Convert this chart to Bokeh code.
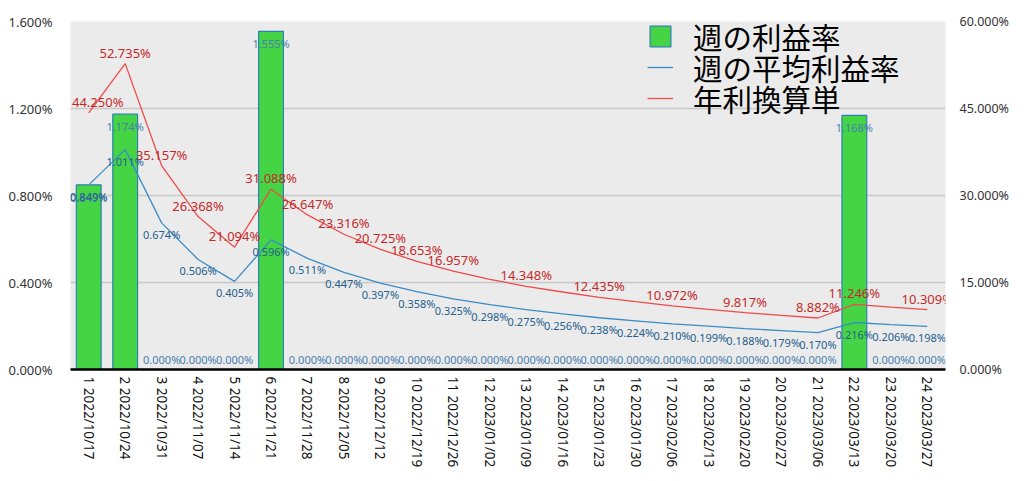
import math
from bokeh.plotting import figure
from bokeh.models import (ColumnDataSource, Range1d, LinearAxis, FixedTicker,
                          PrintfTickFormatter, Legend, LegendItem, FactorRange, LabelSet)
from bokeh.core.properties import value
from bokeh.embed import file_html
from bokeh.resources import INLINE

weeks = ["1 2022/10/17", "2 2022/10/24", "3 2022/10/31", "4 2022/11/07", "5 2022/11/14",
         "6 2022/11/21", "7 2022/11/28", "8 2022/12/05", "9 2022/12/12", "10 2022/12/19",
         "11 2022/12/26", "12 2023/01/02", "13 2023/01/09", "14 2023/01/16", "15 2023/01/23",
         "16 2023/01/30", "17 2023/02/06", "18 2023/02/13", "19 2023/02/20", "20 2023/02/27",
         "21 2023/03/06", "22 2023/03/13", "23 2023/03/20", "24 2023/03/27"]
weekly = [0.849, 1.174, 0.0, 0.0, 0.0, 1.555, 0.0, 0.0, 0.0, 0.0, 0.0, 0.0,
          0.0, 0.0, 0.0, 0.0, 0.0, 0.0, 0.0, 0.0, 0.0, 1.168, 0.0, 0.0]
average = [0.849, 1.011, 0.674, 0.506, 0.405, 0.596, 0.511, 0.447, 0.397, 0.358, 0.325, 0.298,
           0.275, 0.256, 0.238, 0.224, 0.210, 0.199, 0.188, 0.179, 0.170, 0.216, 0.206, 0.198]
annual = [44.250, 52.735, 35.157, 26.368, 21.094, 31.088, 26.647, 23.316, 20.725, 18.653, 16.957, 15.540,
          14.348, 13.360, 12.435, 11.690, 10.972, 10.370, 9.817, 9.330, 8.882, 11.246, 10.740, 10.309]
annual_label_shown = [1, 1, 1, 1, 1, 1, 1, 1, 1, 1, 1, 0, 1, 0, 1, 0, 1, 0, 1, 0, 1, 1, 0, 1]
left_ticks = [0.0, 0.4, 0.8, 1.2, 1.6]
right_ticks = [0.0, 15.0, 30.0, 45.0, 60.0]
legend_names = ["週の利益率", "週の平均利益率", "年利換算単"]

W, H = 1016, 472
p = figure(width=W, height=H, x_range=FactorRange(*weeks, range_padding=0),
           y_range=Range1d(0, 1.6), output_backend="svg", toolbar_location=None,
           min_border_left=70, min_border_right=71, min_border_top=21, min_border_bottom=103)
p.extra_y_ranges = {"right": Range1d(0, 60)}
p.background_fill_color = "#ebebeb"
p.border_fill_color = "white"
p.outline_line_color = None
p.xgrid.grid_line_color = None
p.ygrid.grid_line_color = "#c8c8c8"
p.ygrid.grid_line_width = 1.5
p.ygrid.ticker = FixedTicker(ticks=left_ticks)

font = "Noto Sans"
p.yaxis.ticker = FixedTicker(ticks=left_ticks)
p.yaxis.formatter = PrintfTickFormatter(format="%.3f%%")
p.yaxis.axis_line_color = None
p.yaxis.major_tick_line_color = None
p.yaxis.minor_tick_line_color = None
p.yaxis.major_tick_out = 0
p.yaxis.major_label_text_font = font
p.yaxis.major_label_text_font_size = "13px"
p.yaxis.major_label_text_color = "#333333"
p.yaxis.major_label_standoff = 18

ra = LinearAxis(y_range_name="right", ticker=FixedTicker(ticks=right_ticks),
                formatter=PrintfTickFormatter(format="%.3f%%"))
ra.axis_line_color = None
ra.major_tick_line_color = None
ra.minor_tick_line_color = None
ra.major_tick_out = 0
ra.major_label_text_font = font
ra.major_label_text_font_size = "12.5px"
ra.major_label_text_color = "#333333"
ra.major_label_standoff = 14
p.add_layout(ra, "right")

p.xaxis.major_label_orientation = -math.pi / 2
p.xaxis.axis_line_color = "black"
p.xaxis.axis_line_width = 2.5
p.xaxis.major_tick_line_color = None
p.xaxis.minor_tick_line_color = None
p.xaxis.major_tick_out = 0
p.xaxis.major_tick_in = 0
p.xaxis.major_label_text_font = font
p.xaxis.major_label_text_font_size = "13.5px"
p.xaxis.major_label_text_color = "#111111"
p.xaxis.major_label_standoff = 7

# shift only the first red label so it is not cut at the frame edge
red_shift = [9] + [0] * 23

src = ColumnDataSource(dict(
    x=weeks, weekly=weekly, average=average, annual=annual,
    alab=[f"{v:.3f}%" for v in average],
    rlab=[f"{v:.3f}%" if s else "" for v, s in zip(annual, annual_label_shown)],
    rshift=red_shift,
))

bars = p.vbar(x="x", top="weekly", width=0.68, source=src,
              fill_color="#44d444", line_color="#2f80b8", line_width=1.2)
bl = p.line(x="x", y="average", source=src, line_color="#3a8cc6", line_width=1.3)
rl = p.line(x="x", y="annual", source=src, line_color="#f04a4a", line_width=1.3,
            y_range_name="right")

nz = [i for i, v in enumerate(weekly) if v > 0]
z = [i for i, v in enumerate(weekly) if v == 0]
bsrc = ColumnDataSource(dict(x=[weeks[i] for i in nz], y=[weekly[i] for i in nz],
                             t=[f"{weekly[i]:.3f}%" for i in nz]))
zsrc = ColumnDataSource(dict(x=[weeks[i] for i in z], y=[weekly[i] for i in z],
                             t=[f"{weekly[i]:.3f}%" for i in z]))

p.add_layout(LabelSet(x="x", y="y", text="t", source=bsrc, text_align="center",
                      text_baseline="top", y_offset=-5, text_font=value(font),
                      text_font_size="11px", text_color="#4a80b0"))
p.add_layout(LabelSet(x="x", y="y", text="t", source=zsrc, text_align="center",
                      text_baseline="bottom", y_offset=3, text_font=value(font),
                      text_font_size="11px", text_color="#4a80b0"))
p.add_layout(LabelSet(x="x", y="average", text="alab", source=src, text_align="center",
                      text_baseline="top", y_offset=-4, text_font=value(font),
                      text_font_size="11px", text_color="#245f90"))
p.add_layout(LabelSet(x="x", y="annual", text="rlab", source=src, text_align="center",
                      text_baseline="bottom", y_offset=2, x_offset="rshift",
                      text_font=value(font), text_font_size="13px", text_color="#c42a2a",
                      y_range_name="right"))

renderers = [bars, bl, rl]
locs = [(577, 312), (577, 281), (577, 250)]
for name, r, loc in zip(legend_names, renderers, locs):
    lg = Legend(items=[LegendItem(label=name, renderers=[r])], location=loc)
    lg.background_fill_alpha = 0
    lg.border_line_color = None
    lg.label_text_font = "Noto Sans CJK JP"
    lg.label_text_font_size = "29.5px"
    lg.label_text_color = "black"
    lg.glyph_width = 26
    lg.glyph_height = 26
    lg.label_standoff = 20
    lg.padding = 0
    lg.margin = 0
    p.add_layout(lg, "center")

open("out.html", "w").write(file_html(p, INLINE))
